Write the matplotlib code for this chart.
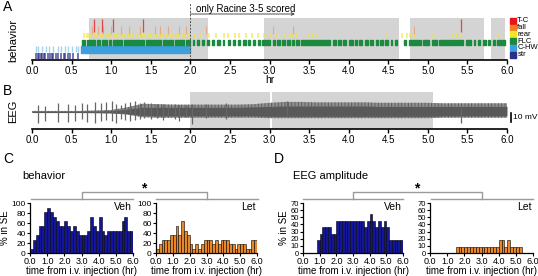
import numpy as np
import matplotlib
matplotlib.use("Agg")
import matplotlib.pyplot as plt
from matplotlib.lines import Line2D
from matplotlib.patches import Rectangle

plt.rcParams['font.family'] = ['Liberation Sans', 'DejaVu Sans']
plt.rcParams['hatch.linewidth'] = 0.6

W, H = 538, 276

# ---------------- panel A: scored behaviour (hr) ----------------
gray_a = [(0.72, 2.22), (2.93, 4.64), (4.77, 5.71), (5.80, 5.97)]
tc_times = [0.78, 0.88, 1.02, 1.40, 5.42]
fall_times = [0.76, 0.84, 0.90, 1.00, 1.13, 1.22, 1.36, 1.55, 1.62, 1.72, 1.86, 1.95, 2.20, 3.05, 3.30, 4.82]
rear_times = [0.66, 0.69, 0.72, 0.75, 0.79, 0.82, 0.86, 0.89, 0.93, 0.96, 1.00, 1.03, 1.07,
              1.10, 1.14, 1.17, 1.21, 1.25, 1.28, 1.32, 1.36, 1.40, 1.43, 1.47, 1.50, 1.54,
              1.58, 1.62, 1.66, 1.70, 1.74, 1.78, 1.82, 1.86, 1.90, 1.93, 1.97, 2.05, 2.12,
              2.24, 2.33, 2.42, 2.48, 2.56, 2.62, 2.70, 2.78, 2.85, 2.93, 3.01, 3.10, 3.20,
              3.27, 3.30, 3.35, 3.50, 3.55, 3.60, 4.48, 4.68, 4.74, 4.78, 4.82, 5.05, 5.32,
              5.36, 5.40, 5.90]
flc_bouts = [(0.63, 0.67), (0.69, 0.74), (0.76, 0.80), (0.82, 0.86), (0.88, 0.95), (0.97, 1.00),
             (1.02, 1.08), (1.10, 1.14), (1.16, 1.22), (1.24, 1.27), (1.29, 1.36), (1.38, 1.42),
             (1.44, 1.50), (1.52, 1.55), (1.57, 1.63), (1.65, 1.70), (1.72, 1.78), (1.80, 1.84),
             (1.86, 1.92), (1.94, 1.99), (2.03, 2.05), (2.09, 2.11), (2.15, 2.17), (2.21, 2.24),
             (2.28, 2.30), (2.34, 2.37), (2.41, 2.43), (2.47, 2.50), (2.54, 2.56), (2.60, 2.63),
             (2.67, 2.70), (2.73, 2.76), (2.79, 2.82), (2.85, 2.88), (2.91, 2.95), (2.97, 3.01),
             (3.04, 3.07), (3.10, 3.13), (3.16, 3.19), (3.22, 3.26), (3.28, 3.31), (3.34, 3.37),
             (3.40, 3.77), (3.80, 3.84), (3.87, 3.90), (3.93, 3.97), (4.00, 4.05), (4.08, 4.10),
             (4.13, 4.17), (4.20, 4.24), (4.27, 4.31), (4.34, 4.37), (4.40, 4.43), (4.46, 4.50),
             (4.53, 4.55), (4.58, 4.61), (4.70, 4.73), (4.76, 4.92), (4.94, 5.02), (5.05, 5.12),
             (5.14, 5.25), (5.27, 5.35), (5.37, 5.45), (5.48, 5.55), (5.58, 5.60), (5.64, 5.66),
             (5.70, 5.73), (5.76, 5.78), (5.82, 5.85), (5.88, 5.92), (5.94, 5.98)]
chw_bout = (0.62, 2.00)
chw_times = [0.05, 0.08, 0.12, 0.18, 0.22, 0.27, 0.33, 0.36, 0.42, 0.46, 0.50, 0.55, 0.58]
str_times = [0.05, 0.07, 0.09, 0.11, 0.13, 0.15, 0.17, 0.20, 0.23, 0.25, 0.27, 0.30, 0.33,
             0.37, 0.40, 0.42, 0.45, 0.48, 0.52, 0.58]
beh_labels = ['T-C', 'fall', 'rear', 'FLC', 'C-HW', 'str']
beh_colors = ['#e8141c', '#f47b20', '#f5e52a', '#1b8a3e', '#3d9fdc', '#2b2f87']

# ---------------- panel B: EEG (mV) ----------------
gray_b = [(2.00, 3.00), (3.03, 5.07)]
env_t = [0.0, 0.2, 0.4, 0.6, 0.8, 1.0, 1.2, 1.4, 1.6, 1.8, 2.0, 2.2, 2.4, 2.6, 2.8, 3.0,
         3.2, 3.4, 3.6, 3.8, 4.0, 4.2, 4.4, 4.6, 4.8, 5.0, 5.2, 5.4, 5.6, 5.8, 6.0]
env_hi = [1, 1, 1, 1, 1.5, 2, 5, 9, 8.5, 8, 8, 8, 8, 8, 8.5, 10,
          11, 11, 10.5, 10.5, 10.5, 10.5, 10, 10, 10, 10, 9.5, 9.5, 9.5, 9.5, 9.5]
env_lo = [-1, -1, -1, -1, -1.2, -1.5, -3, -6, -6.5, -6.5, -6.5, -6.5, -6.5, -6.5, -6.5, -7,
          -7, -7, -7, -7, -7, -7, -7, -7, -7, -7, -6.5, -6.5, -6.5, -6.5, -6.5]
core_hi = [0.8, 0.8, 0.8, 0.8, 1, 1.2, 3, 5, 5, 5, 5, 5, 5, 5, 5.5, 6,
           6.5, 6.5, 6.5, 6.5, 6.5, 6.5, 6, 6, 6, 6, 6, 6, 6, 6, 6]
core_lo = [-0.8, -0.8, -0.8, -0.8, -1, -1.2, -2, -4, -4.5, -4.5, -4.5, -4.5, -4.5, -4.5, -4.5, -5,
           -5, -5, -5, -5, -5, -5, -5, -5, -5, -5, -4.5, -4.5, -4.5, -4.5, -4.5]
spike_t = [0.08, 0.17, 0.33, 0.45, 0.54, 0.63, 0.70, 0.79, 0.87, 0.94, 1.01, 1.06, 1.12,
           1.18, 1.24, 1.30, 1.36, 1.42, 1.50, 1.58, 1.65, 1.72, 1.80, 1.86, 1.94, 2.02,
           2.20, 2.45, 3.22, 5.42]
spike_up = [8, 7, 10, 9, 8, 10, 9, 11, 10, 11, 12, 9, 8, 10, 11, 12, 10, 11, 10, 9,
            9, 8, 9, 8, 8, 9, 9, 10, 12, 6]
spike_dn = [-12, -10, -11, -11, -10, -8, -11, -12, -10, -9, -10, -12, -8, -9, -10, -9,
            -8, -7, -8, -7, -9, -6, -8, -10, -6, -14, -7, -8, -6, -12]

# ---------------- panels C/D: % of animals in SE per 10-min bin ----------------
beh_veh = [9, 27, 36, 55, 55, 82, 91, 82, 73, 64, 55, 55, 64, 55, 45, 55, 45, 36,
           36, 36, 45, 73, 55, 45, 73, 45, 36, 45, 45, 45, 45, 45, 64, 73, 45, 45]
beh_let = [9, 18, 27, 27, 27, 36, 36, 55, 36, 64, 45, 36, 18, 9, 18, 9, 18, 27,
           27, 27, 18, 27, 18, 27, 27, 27, 18, 18, 9, 18, 18, 18, 9, 9, 27, 27]
eeg_veh = [0, 0, 0, 0, 0, 18, 27, 36, 36, 36, 27, 27, 45, 45, 45, 45, 45, 45,
           45, 45, 45, 45, 36, 45, 55, 45, 36, 45, 36, 45, 36, 18, 18, 18, 18, 18]
eeg_let = [0, 0, 0, 0, 0, 0, 0, 0, 0, 9, 9, 9, 9, 9, 9, 9, 9, 9,
           9, 9, 9, 9, 9, 9, 18, 18, 9, 18, 9, 9, 9, 9, 0, 0, 0, 0]


def px_axes(fig, left, top, right, bottom):
    return fig.add_axes([left / W, 1 - bottom / H, (right - left) / W, (bottom - top) / H])


def fig_text(fig, x, y, s, **kw):
    fig.text(x / W, 1 - y / H, s, **kw)


def fig_line(fig, xs, ys, **kw):
    fig.add_artist(Line2D([x / W for x in xs], [1 - y / H for y in ys], **kw))


def time_axis(ax, labelsize=7):
    ax.set_xlim(0, 6)
    ax.set_xticks(np.arange(0, 6.01, 0.5))
    ax.set_xticklabels([f'{v:.1f}' for v in np.arange(0, 6.01, 0.5)])
    ax.set_yticks([])
    for s in ['top', 'right', 'left']:
        ax.spines[s].set_visible(False)
    ax.spines['bottom'].set_linewidth(1.2)
    ax.tick_params(axis='x', length=3, width=1, pad=1.5, labelsize=labelsize)


def hist(ax, vals, color, ymax, ystep, name, ylabel, ysize):
    x = np.arange(len(vals)) / 6.0
    ax.bar(x, vals, width=1 / 6, align='edge', color=color, edgecolor='black', linewidth=0.4)
    ax.set_xlim(0, 6)
    ax.set_ylim(0, ymax)
    ax.set_xticks(np.arange(0, 6.01, 1.0))
    ax.set_xticklabels([f'{v:.1f}' for v in np.arange(0, 6.01, 1.0)])
    ax.set_yticks(np.arange(0, ymax + 0.1, ystep))
    for s in ['top', 'right']:
        ax.spines[s].set_visible(False)
    for s in ['left', 'bottom']:
        ax.spines[s].set_linewidth(0.9)
    ax.tick_params(axis='x', length=2, width=0.8, pad=1, labelsize=6.5)
    ax.tick_params(axis='y', length=2, width=0.8, pad=1, labelsize=ysize)
    ax.set_xlabel('time from i.v. injection (hr)', fontsize=7, labelpad=0)
    ax.text(0.99, 0.93, name, transform=ax.transAxes, ha='right', va='center', fontsize=7.5)
    if ylabel:
        ax.set_ylabel('% in SE', fontsize=7, labelpad=1)


fig = plt.figure(figsize=(W / 100, H / 100), dpi=100)

# ---- A ----
ax = px_axes(fig, 32, 18, 507, 60)
time_axis(ax)
ax.set_ylim(0, 42)
for a, b in gray_a:
    ax.axvspan(a, b, color='#d4d4d4', lw=0, zorder=0)
ax.vlines(str_times, 1.5, 7.5, colors=beh_colors[5], lw=1.1, alpha=0.85)
ax.vlines(chw_times, 8, 14, colors=beh_colors[4], lw=1.0, alpha=0.45)
ax.broken_barh([(chw_bout[0], chw_bout[1] - chw_bout[0])], (7.5, 6.5), color=beh_colors[4])
ax.broken_barh([(s, e - s) for s, e in flc_bouts], (15, 5.5), color=beh_colors[3])
ax.vlines(rear_times, 22, 27, colors=beh_colors[2], lw=1.1, alpha=0.8)
ax.vlines(fall_times, 26, 34, colors=beh_colors[1], lw=0.8, alpha=0.45)
ax.vlines(tc_times, 28, 41, colors=beh_colors[0], lw=0.9, alpha=0.75)
ax.plot([2, 2], [0, 57], ls=(0, (2, 1.5)), color='#555555', lw=0.7, clip_on=False)
ax.annotate('', xy=(3.32, 46), xytext=(2.0, 46), annotation_clip=False,
            arrowprops=dict(arrowstyle='->', lw=0.6, color='#333333', shrinkA=0, shrinkB=0,
                            mutation_scale=5))
ax.text(2.07, 51.5, 'only Racine 3-5 scored', fontsize=7, va='center')
ax.set_xlabel('hr', fontsize=7.5, labelpad=-1)
for i, (lab, c) in enumerate(zip(beh_labels, beh_colors)):
    yc = 39 - i * 6.7
    ax.add_patch(Rectangle((6.04, yc - 3), 0.075, 6, color=c, clip_on=False))
    ax.text(6.13, yc, lab, fontsize=5.5, va='center', ha='left')
fig_text(fig, 3, 7, 'A', fontsize=10, va='center')
fig_text(fig, 13, 40, 'behavior', fontsize=8, rotation=90, va='center', ha='center')

# ---- B ----
ax = px_axes(fig, 32, 92, 507, 129)
time_axis(ax)
ax.set_ylim(-19, 22)
for a, b in gray_b:
    ax.axvspan(a, b, color='#d4d4d4', lw=0, zorder=0)
ax.fill_between(env_t, env_lo, env_hi, facecolor='#8e8e8e', edgecolor='#5a5a5a',
                hatch='|||||', lw=0)
ax.fill_between(env_t, core_lo, core_hi, color='#595959', lw=0)
ax.vlines(spike_t, spike_dn, spike_up, colors='#666666', lw=0.9)
ax.plot([6.05, 6.05], [-1.5, -11.5], color='black', lw=1.2, clip_on=False)
ax.text(6.08, -6.5, '10 mV', fontsize=6, va='center')
fig_text(fig, 3, 91, 'B', fontsize=10, va='center')
fig_text(fig, 13, 111, 'EEG', fontsize=8, rotation=90, va='center', ha='center')

# ---- C ----
ax = px_axes(fig, 30, 203, 133, 253)
hist(ax, beh_veh, '#14169a', 100, 20, 'Veh', True, 6)
ax = px_axes(fig, 156, 203, 257, 253)
hist(ax, beh_let, '#e8872a', 100, 20, 'Let', False, 6)
fig_text(fig, 3, 159, 'C', fontsize=10, va='center')
fig_text(fig, 22, 176, 'behavior', fontsize=8, va='center')

# ---- D ----
ax = px_axes(fig, 303, 203, 403, 253)
hist(ax, eeg_veh, '#14169a', 70, 10, 'Veh', True, 5.5)
ax = px_axes(fig, 430, 203, 533, 253)
hist(ax, eeg_let, '#e8872a', 70, 10, 'Let', False, 5.5)
fig_text(fig, 274, 159, 'D', fontsize=10, va='center')
fig_text(fig, 293, 176, 'EEG amplitude', fontsize=8, va='center')

# significance brackets
gc = '#9a9a9a'
for l1, r1, l2, r2, sx in [(31, 133, 156, 258, 144), (303, 403, 431, 533, 417)]:
    c1, c2 = (l1 + r1) / 2, (l2 + r2) / 2
    fig_line(fig, [l1, r1], [199, 199], color=gc, lw=1)
    fig_line(fig, [l2, r2], [199, 199], color=gc, lw=1)
    fig_line(fig, [c1, c1, c2, c2], [199, 192, 192, 199], color=gc, lw=1)
    fig_text(fig, sx, 188, '*', fontsize=10, ha='center', va='center', fontweight='bold')

fig.savefig('out.png', dpi=100)
